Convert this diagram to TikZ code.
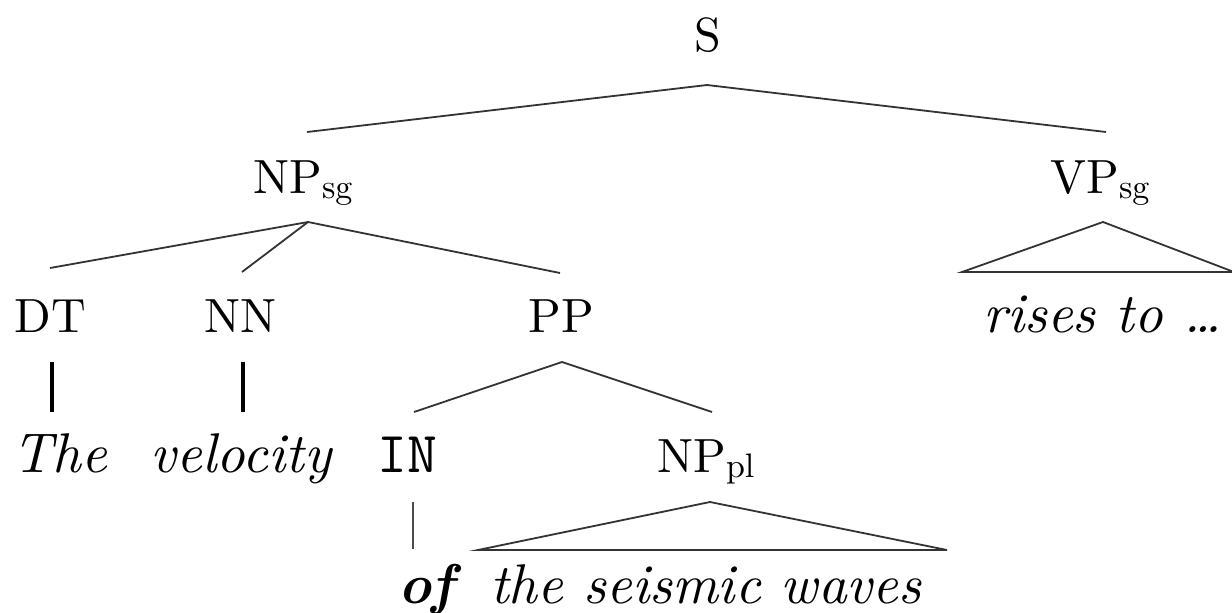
\documentclass[tikz,border=0pt]{standalone}
\usepackage{fontspec}
\setmainfont{lmroman10}[Extension=.otf, UprightFont=*-regular, ItalicFont=*-italic, BoldFont=*-bold, BoldItalicFont=*-bolditalic]
\begin{document}
\begin{tikzpicture}[x=0.5pt,y=-0.5pt,
  lab/.style={inner sep=0pt,font=\fontsize{24}{30}\selectfont},
  word/.style={inner sep=0pt,font=\fontsize{28}{34}\selectfont\itshape},
  tag/.style={inner sep=0pt,font=\fontsize{24}{30}\selectfont},
  ttag/.style={inner sep=0pt,font=\fontsize{29}{34}\ttfamily},
  edge/.style={draw=black!80,line width=0.9pt},
  bar/.style={draw=black,line width=1.6pt},
  thinbar/.style={draw=black!70,line width=0.7pt}]
\newcommand{\subs}[1]{\raisebox{-2.5pt}{\fontsize{17}{20}\selectfont #1}}
\useasboundingbox (0,0) rectangle (1232,612);
% labels
\node[lab,anchor=base] (S) at (708,51) {S};
\node[lab,anchor=base west] (NPsg) at (253,193) {NP\subs{sg}};
\node[lab,anchor=base west] (VPsg) at (1050,193) {VP\subs{sg}};
\node[tag,anchor=base] (DT) at (50,332) {DT};
\node[tag,anchor=base] (NN) at (240,332) {NN};
\node[lab,anchor=base] (PP) at (561,332) {PP};
\node[word,anchor=base west] (rises) at (983,332) {rises to \dots};
\node[word,anchor=base] (The) at (60,472) {The};
\node[word,anchor=base] (velocity) at (241,472) {velocity};
\node[ttag,anchor=base west] (IN) at (377,472) {IN};
\node[lab,anchor=base west] (NPpl) at (657,472) {NP\subs{pl}};
\node[word,anchor=base west,font=\fontsize{28}{34}\selectfont\bfseries\itshape] (of) at (398,603) {of};
\node[word,anchor=base west] (waves) at (490,603) {the seismic waves};
% connector ends
\coordinate (S-b) at (707,85);
\coordinate (NPsg-t) at (307,132);
\coordinate (VPsg-t) at (1106,132);
\coordinate (NPsg-b) at (308,222);
\coordinate (DT-t) at (50,268);
\coordinate (NN-t) at (242,272);
\coordinate (PP-t) at (560,273);
\coordinate (VPsg-b) at (1103,222);
\coordinate (VPl) at (962,272);
\coordinate (VPr) at (1234,272);
\coordinate (DT-b) at (52,362);
\coordinate (The-t) at (52,412);
\coordinate (NN-b) at (243,362);
\coordinate (vel-t) at (243,412);
\coordinate (PP-b) at (562,362);
\coordinate (IN-t) at (414,412);
\coordinate (NPpl-t) at (712,412);
\coordinate (IN-b) at (413,502);
\coordinate (of-t) at (413,549);
\coordinate (NPpl-b) at (710,502);
\coordinate (NPl) at (478,550);
\coordinate (NPr) at (947,550);
% connectors
\draw[edge] (NPsg-t) -- (S-b) -- (VPsg-t);
\draw[edge] (DT-t) -- (NPsg-b) -- (PP-t);
\draw[edge] (NPsg-b) -- (NN-t);
\draw[edge] (VPl) -- (VPsg-b) -- (VPr) -- cycle;
\draw[bar] (DT-b) -- (The-t);
\draw[bar] (NN-b) -- (vel-t);
\draw[edge] (IN-t) -- (PP-b) -- (NPpl-t);
\draw[thinbar] (IN-b) -- (of-t);
\draw[edge] (NPl) -- (NPpl-b) -- (NPr) -- cycle;
\end{tikzpicture}
\end{document}
